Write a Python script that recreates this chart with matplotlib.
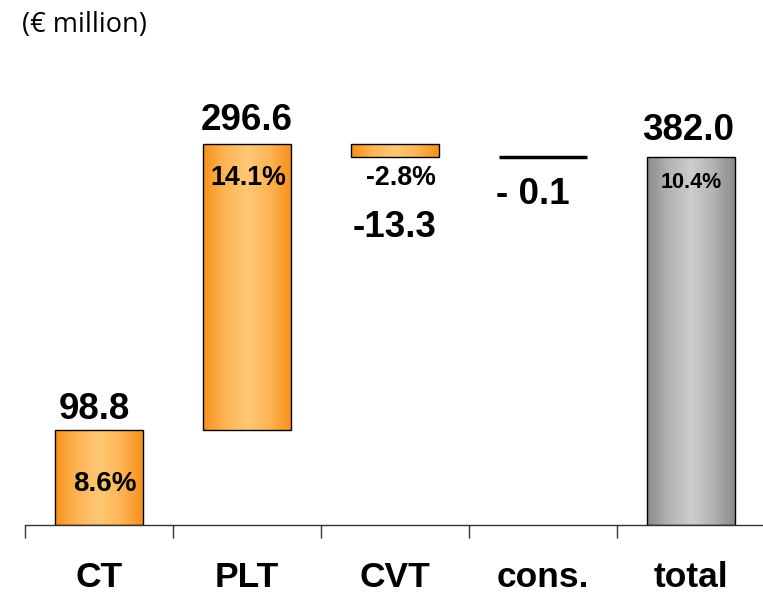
import numpy as np
import matplotlib
matplotlib.use('agg')
import matplotlib.pyplot as plt
from matplotlib.colors import LinearSegmentedColormap

# data
categories = ['CT', 'PLT', 'CVT', 'cons.', 'total']
deltas = [98.8, 296.6, -13.3, -0.1]
value_labels = ['98.8', '296.6', '-13.3', '- 0.1', '382.0']
pct_labels = ['8.6%', '14.1%', '-2.8%', None, '10.4%']

total = round(sum(deltas), 1)

plt.rcParams['font.family'] = ['Liberation Sans', 'DejaVu Sans']

fig = plt.figure(figsize=(7.63, 5.98), dpi=100)
ax = fig.add_axes([25 / 763, 73 / 598, 740 / 763, 450 * 0.963 / 598])
ax.set_xlim(-0.5, 4.5)
ax.set_ylim(0, 450)

orange = LinearSegmentedColormap.from_list('o', ['#f7911a', '#fdb556', '#ffc874', '#fdb556', '#f7911a'])
grey = LinearSegmentedColormap.from_list('g', ['#8a8a8a', '#b4b4b4', '#cdcdcd', '#b4b4b4', '#8a8a8a'])
grad = np.linspace(0, 1, 256).reshape(1, -1)

width = 0.59
bottoms, tops = [], []
running = 0.0
for d in deltas:
    lo, hi = sorted([running, running + d])
    bottoms.append(lo)
    tops.append(hi)
    running += d
bottoms.append(0.0)
tops.append(total)

for i, (b, t) in enumerate(zip(bottoms, tops)):
    x0 = i - width / 2
    if categories[i] == 'cons.':
        ax.plot([x0, x0 + width], [t, t], color='black', lw=2.5, solid_capstyle='butt', zorder=3)
        continue
    cmap = grey if categories[i] == 'total' else orange
    rect = plt.Rectangle((x0, b), width, t - b, facecolor='none', edgecolor='black', lw=1.0, zorder=3)
    ax.add_patch(rect)
    im = ax.imshow(grad, cmap=cmap, aspect='auto', extent=[x0, x0 + width, b, t], zorder=2)
    im.set_clip_path(rect)

# value labels (offsets in points)
val_offsets = [(-3, 15), (0, 17), (0, -51), (-7, -27), (-2, 19)]
for i, lab in enumerate(value_labels):
    y = tops[i] if val_offsets[i][1] > 0 else bottoms[i]
    ax.annotate(lab, (i, y), xytext=val_offsets[i], textcoords='offset points',
                ha='center', va='center', fontsize=26.5, fontweight='bold')

pct_offsets = [(4, -39), (1, -24), (4, -15), None, (0, -18)]
pct_sizes = [20, 19.3, 19.3, None, 15.5]
for i, lab in enumerate(pct_labels):
    if lab is None:
        continue
    y = tops[i] if categories[i] != 'CVT' else bottoms[i]
    ax.annotate(lab, (i, y), xytext=pct_offsets[i], textcoords='offset points',
                ha='center', va='center', fontsize=pct_sizes[i], fontweight='bold')

# axis styling
for s in ['left', 'right', 'top']:
    ax.spines[s].set_visible(False)
ax.spines['bottom'].set_color('#333333')
ax.spines['bottom'].set_linewidth(1.0)
ax.set_yticks([])
ax.set_xticks(np.arange(-0.5, 5, 1.0))
ax.set_xticklabels([])
ax.tick_params(axis='x', which='major', direction='out', length=9.5, width=1.0, color='#333333')
ax.set_xticks(range(len(categories)), minor=True)
ax.set_xticklabels(categories, minor=True, fontsize=25.5, fontweight='bold')
ax.tick_params(axis='x', which='minor', length=0, pad=26)

fig.text(22 / 763, 1 - 25 / 598, '(€ million)', fontsize=19.5, va='center', ha='left',
         family=['Open Sans', 'DejaVu Sans'])

plt.savefig('out.png', dpi=100)
